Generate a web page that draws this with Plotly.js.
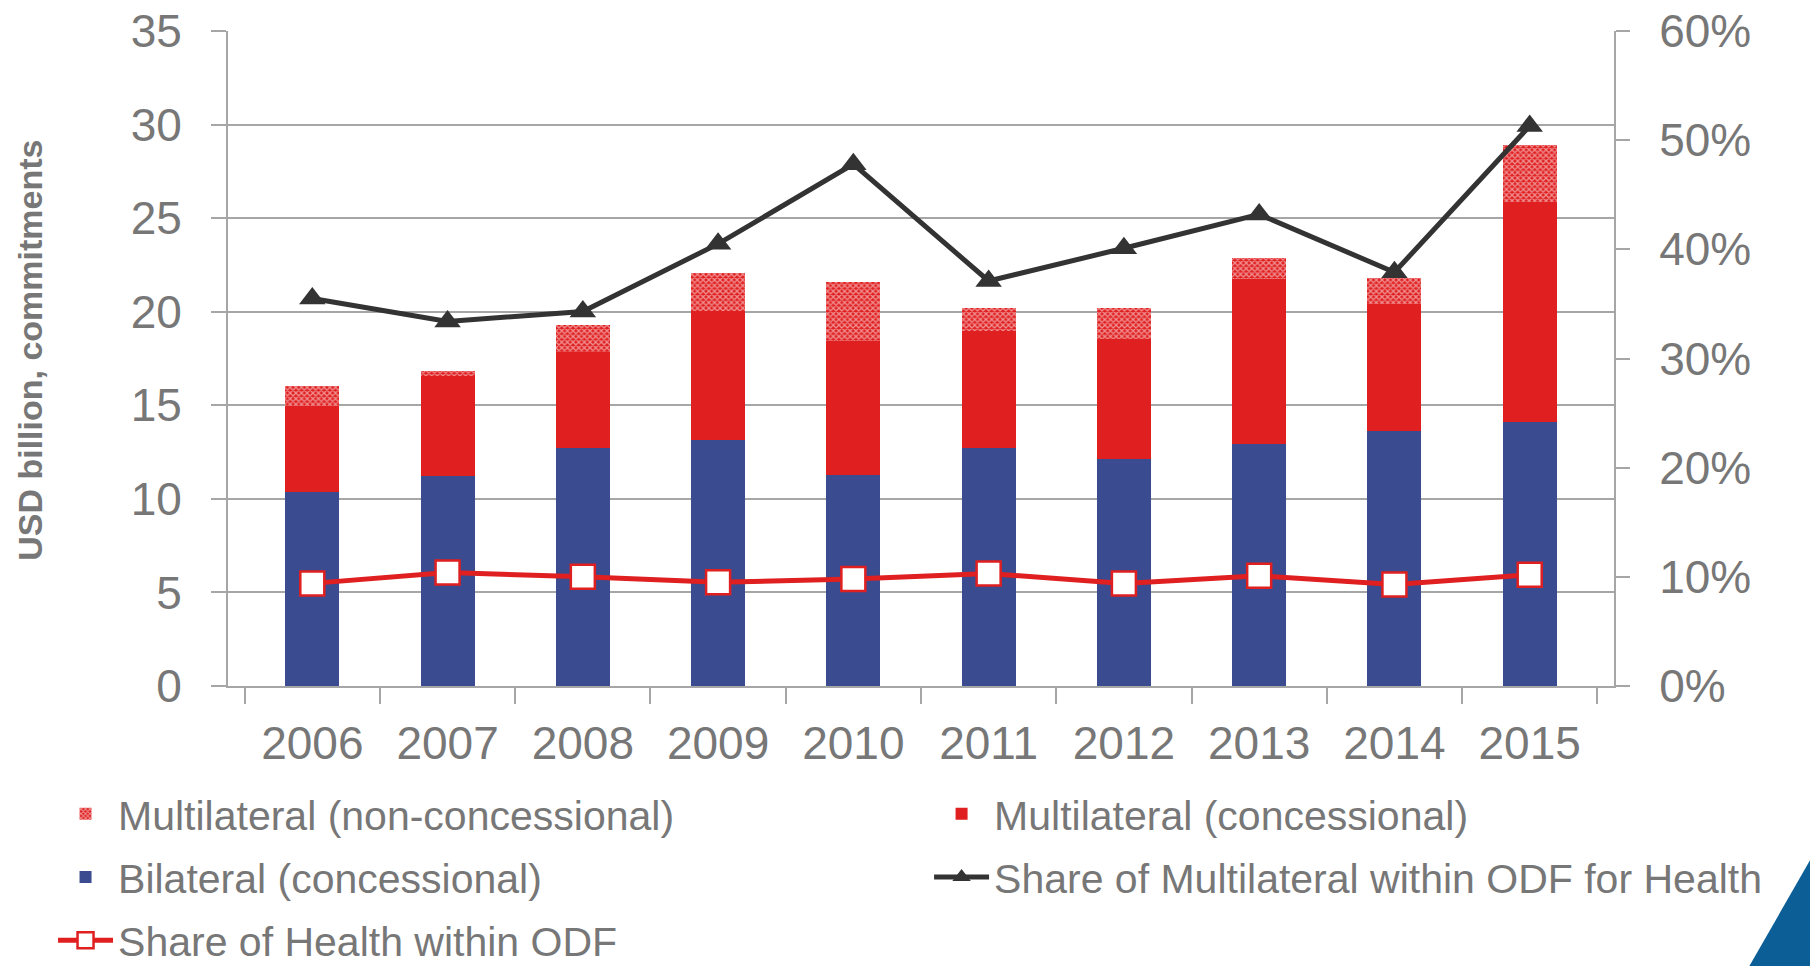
<!DOCTYPE html>
<html>
<head>
<meta charset="utf-8">
<script src="https://cdn.plot.ly/plotly-3.0.1.min.js"></script>
<style>
  html, body { margin: 0; padding: 0; background: #ffffff; }
  #chart { width: 1810px; height: 966px; }
</style>
</head>
<body>
<div id="chart"></div>
<script>
// ---- Data ----
const years = ["2006", "2007", "2008", "2009", "2010", "2011", "2012", "2013", "2014", "2015"];
const bilateralConcessional = [10.35, 11.2, 12.7, 13.15, 11.3, 12.7, 12.15, 12.95, 13.6, 14.1];
const multilateralConcessional = [4.6, 5.35, 5.15, 6.9, 7.15, 6.25, 6.4, 8.8, 6.8, 11.75];
const multilateralNonConcessional = [1.1, 0.3, 1.45, 2.0, 3.15, 1.25, 1.65, 1.1, 1.4, 3.05];
const shareMultilateralInHealth = [0.355, 0.334, 0.343, 0.405, 0.478, 0.371, 0.401, 0.432, 0.379, 0.513];
const shareHealthInODF = [0.094, 0.104, 0.100, 0.095, 0.098, 0.103, 0.094, 0.101, 0.093, 0.102];
const yTitle = "USD billion, commitments";

const GRAY = "#777777";
const AXIS = "#a6a6a6";
const BLUE = "#3b4b8f";
const RED = "#e01f20";
const DARK = "#333333";
const FONT = "Arial, 'Liberation Sans', sans-serif";

const traces = [
  {
    type: "bar", name: "Bilateral (concessional)", x: years, y: bilateralConcessional,
    marker: { color: BLUE, line: { width: 0 } },
    legend: "legend", legendgroup: "g1", legendrank: 2, hoverinfo: "x+y+name"
  },
  {
    type: "bar", name: "Multilateral (concessional)", x: years, y: multilateralConcessional,
    marker: { color: RED, line: { width: 0 } },
    legend: "legend2", legendgroup: "g2", legendrank: 1, hoverinfo: "x+y+name"
  },
  {
    type: "bar", name: "Multilateral (non-concessional)", x: years, y: multilateralNonConcessional,
    marker: {
      color: RED, line: { width: 0 },
      pattern: { shape: "x", fgcolor: "#ffffff", fillmode: "overlay", size: 4, solidity: 0.55 }
    },
    legend: "legend", legendgroup: "g3", legendrank: 1, hoverinfo: "x+y+name"
  },
  {
    type: "scatter", mode: "lines+markers", name: "Share of Multilateral within ODF for Health",
    x: years, y: shareMultilateralInHealth, yaxis: "y2",
    line: { color: DARK, width: 5 },
    marker: { symbol: "triangle-up", size: 23, color: DARK },
    legend: "legend2", legendgroup: "g4", legendrank: 2
  },
  {
    type: "scatter", mode: "lines+markers", name: "Share of Health within ODF",
    x: years, y: shareHealthInODF, yaxis: "y2",
    line: { color: RED, width: 5 },
    marker: { symbol: "square", size: 24, color: "#ffffff", line: { color: RED, width: 2.5 } },
    legend: "legend", legendgroup: "g5", legendrank: 3
  }
];

const legendBase = {
  xref: "container", yref: "container", orientation: "v",
  xanchor: "left", yanchor: "top",
  font: { family: FONT, size: 41, color: GRAY },
  bgcolor: "rgba(0,0,0,0)", borderwidth: 0,
  tracegroupgap: 7, traceorder: "grouped", itemwidth: 55
};

const layout = {
  width: 1810, height: 966,
  paper_bgcolor: "#ffffff", plot_bgcolor: "#ffffff",
  margin: { l: 228, r: 196, t: 31, b: 280, pad: 0, autoexpand: false },
  font: { family: FONT, color: GRAY },
  barmode: "stack", bargap: 0.6,
  showlegend: true,
  xaxis: {
    type: "category", showgrid: false, zeroline: false, automargin: false,
    showline: true, linecolor: AXIS, linewidth: 2, tickangle: 0,
    ticks: "outside", tickson: "boundaries", ticklen: 16, tickcolor: AXIS, tickwidth: 2,
    tickfont: { family: FONT, size: 46, color: GRAY }, ticklabelstandoff: 16
  },
  yaxis: {
    range: [0, 35], dtick: 5, showgrid: true, gridcolor: AXIS, gridwidth: 2, automargin: false,
    zeroline: false, showline: true, linecolor: AXIS, linewidth: 2,
    ticks: "outside", ticklen: 15, tickcolor: AXIS, tickwidth: 2,
    tickfont: { family: FONT, size: 46, color: GRAY }, ticklabelstandoff: 20
  },
  yaxis2: {
    overlaying: "y", side: "right", range: [0, 0.6], dtick: 0.1, tickformat: ".0%", automargin: false,
    showgrid: false, zeroline: false, showline: true, linecolor: AXIS, linewidth: 2,
    ticks: "outside", ticklen: 14, tickcolor: AXIS, tickwidth: 2,
    tickfont: { family: FONT, size: 46, color: GRAY }, ticklabelstandoff: 20
  },
  legend: Object.assign({}, legendBase, { x: 0.0293, y: 0.192 }),
  legend2: Object.assign({}, legendBase, { x: 0.5133, y: 0.192 }),
  annotations: [
    {
      text: yTitle, textangle: -90, showarrow: false,
      xref: "paper", yref: "paper", x: -0.1430, y: 0.513, xanchor: "center", yanchor: "middle",
      font: { family: FONT, size: 34, color: GRAY, weight: "bold" }
    }
  ],
  shapes: [
    {
      type: "path", xref: "paper", yref: "paper",
      path: "M 1.0970,-0.4300 L 1.1420,-0.2640 L 1.1420,-0.4300 Z",
      fillcolor: "#0b5e96", line: { width: 0 }, layer: "above"
    }
  ]
};

Plotly.newPlot("chart", traces, layout, { displayModeBar: false, staticPlot: true });
</script>
</body>
</html>
